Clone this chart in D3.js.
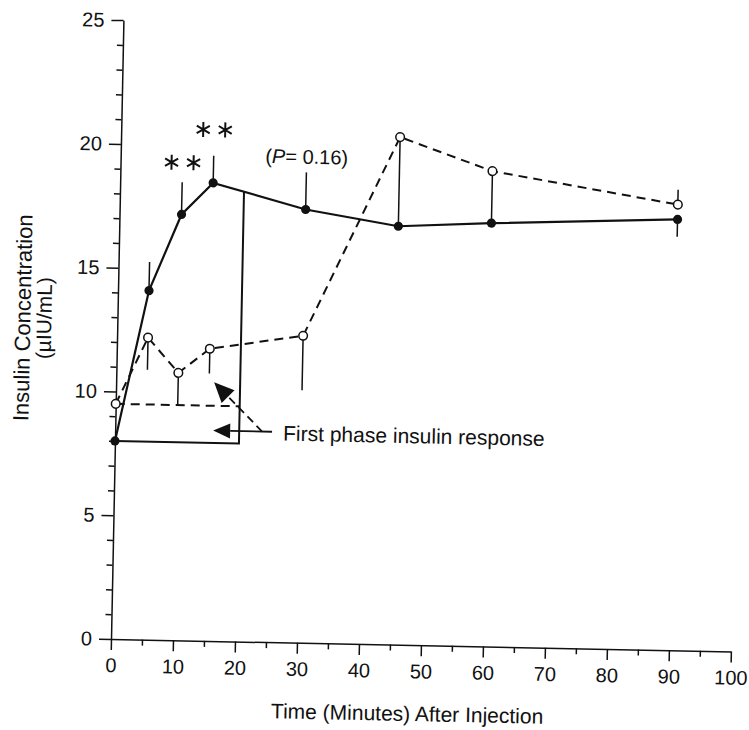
<!DOCTYPE html>
<html>
<head>
<meta charset="utf-8">
<script src="https://cdn.jsdelivr.net/npm/d3@7"></script>
<style>
  body { margin: 0; background: #fff; }
  text { font-family: "Liberation Sans", Arial, Helvetica, sans-serif; fill: #111; }
</style>
</head>
<body>
<svg id="chart" width="749" height="730"></svg>
<script>
// sampling times (minutes after injection)
const times = [0, 5, 10, 15, 30, 45, 60, 90];

// filled circles / solid line
const solidMean    = [8.0, 14.1, 17.2, 18.5, 17.5, 16.9, 17.1, 17.4];
const solidErrUp   = [0, 1.15, 1.3, 1.1, 1.5, 0, 0, 0];
const solidErrDown = [0, 0, 0, 0, 0, 0, 0, 0.7];

// open circles / dashed line
const openMean    = [9.5, 12.2, 10.8, 11.8, 12.4, 20.5, 19.2, 18.0];
const openErrUp   = [0, 0, 0, 0, 0, 0, 0, 0.6];
const openErrDown = [0, 1.3, 1.3, 1.0, 2.2, 3.6, 2.1, 0];

const xTicks = [0, 10, 20, 30, 40, 50, 60, 70, 80, 90, 100];
const yTicks = [0, 5, 10, 15, 20, 25];

const firstPhaseEnd = 20;          // end of first phase window (min)
const starTimes  = [10, 15];       // points marked **
const starLevels = [19.3, 20.65];  // height of the ** marks
const pTime = 30, pLevel = 19.35;  // "(P= 0.16)" label

const W = 620, H = 619;
const tilt = 1.15; // the scanned figure is slightly rotated

const svg = d3.select("#chart");
svg.append("rect").attr("width", 749).attr("height", 730).attr("fill", "#fff");

const g = svg.append("g")
  .attr("transform", `rotate(${tilt},111,639) translate(111,20)`);

const x = d3.scaleLinear().domain([0, 100]).range([0, W]);
const y = d3.scaleLinear().domain([0, 25]).range([H, 0]);

// axes
const styleAxis = sel => {
  sel.attr("font-size", null).attr("font-family", null);
  sel.selectAll("path, line").attr("stroke", "#111").attr("stroke-width", 1.5);
  sel.selectAll("text").attr("font-size", 20);
};

g.append("g").attr("transform", `translate(0,${H})`)
  .call(d3.axisBottom(x).tickValues(d3.range(5, 100, 10)).tickSize(6).tickFormat("").tickSizeOuter(0))
  .call(styleAxis).select(".domain").remove();
g.append("g").attr("transform", `translate(0,${H})`)
  .call(d3.axisBottom(x).tickValues(xTicks).tickSize(11).tickPadding(8).tickSizeOuter(0))
  .call(styleAxis);

g.append("g")
  .call(d3.axisLeft(y).tickValues(d3.range(0, 25).filter(v => v % 5)).tickSize(6).tickFormat("").tickSizeOuter(0))
  .call(styleAxis).select(".domain").remove();
g.append("g")
  .call(d3.axisLeft(y).tickValues(yTicks).tickSize(12).tickPadding(7).tickSizeOuter(0))
  .call(styleAxis);

// axis titles
g.append("text")
  .attr("x", x(48)).attr("y", H + 76)
  .attr("text-anchor", "middle").attr("font-size", 21)
  .text("Time (Minutes) After Injection");

const yTitle = g.append("g").attr("transform", `translate(-87,${y(12.9)}) rotate(-90)`);
yTitle.append("text").attr("text-anchor", "middle").attr("font-size", 22).text("Insulin Concentration");
yTitle.append("text").attr("y", 21).attr("text-anchor", "middle").attr("font-size", 21).text("(\u00b5IU/mL)");

const solid = times.map((t, i) => ({t, v: solidMean[i], up: solidErrUp[i], down: solidErrDown[i]}));
const open  = times.map((t, i) => ({t, v: openMean[i],  up: openErrUp[i],  down: openErrDown[i]}));

// first phase window
const solidAt = d3.scaleLinear().domain(times).range(solidMean);
g.append("path")
  .attr("d", d3.line()([
    [x(0), y(solidMean[0])],
    [x(firstPhaseEnd), y(solidMean[0])],
    [x(firstPhaseEnd), y(solidAt(firstPhaseEnd))]
  ]))
  .attr("fill", "none").attr("stroke", "#111").attr("stroke-width", 2);
g.append("line")
  .attr("x1", x(0)).attr("x2", x(firstPhaseEnd))
  .attr("y1", y(openMean[0])).attr("y2", y(openMean[0]))
  .attr("stroke", "#111").attr("stroke-width", 2).attr("stroke-dasharray", "9,6");

// error bars
const bars = [...solid, ...open].filter(d => d.up || d.down);
g.selectAll("line.err")
  .data(bars)
  .join("line")
  .attr("class", "err")
  .attr("x1", d => x(d.t)).attr("x2", d => x(d.t))
  .attr("y1", d => y(d.v - d.down)).attr("y2", d => y(d.v + d.up))
  .attr("stroke", "#111").attr("stroke-width", 1.5);

// lines
const line = d3.line().x(d => x(d.t)).y(d => y(d.v));
g.append("path").datum(open).attr("d", line)
  .attr("fill", "none").attr("stroke", "#111").attr("stroke-width", 2).attr("stroke-dasharray", "9,6");
g.append("path").datum(solid).attr("d", line)
  .attr("fill", "none").attr("stroke", "#111").attr("stroke-width", 2.2);

// points
g.selectAll("circle.open")
  .data(open)
  .join("circle")
  .attr("class", "open")
  .attr("cx", d => x(d.t)).attr("cy", d => y(d.v)).attr("r", 4.3)
  .attr("fill", "#fff").attr("stroke", "#111").attr("stroke-width", 1.5);
g.selectAll("circle.solid")
  .data(solid)
  .join("circle")
  .attr("class", "solid")
  .attr("cx", d => x(d.t)).attr("cy", d => y(d.v)).attr("r", 4.6)
  .attr("fill", "#111");

// ** marks
const star = d3.symbol(d3.symbolAsterisk, 160)();
starTimes.forEach((t, i) => {
  [-11, 11].forEach(dx => {
    g.append("path")
      .attr("d", star)
      .attr("transform", `translate(${x(t) + dx},${y(starLevels[i])})`)
      .attr("fill", "none").attr("stroke", "#111").attr("stroke-width", 2);
  });
});

// P value
const pText = g.append("text")
  .attr("x", x(pTime)).attr("y", y(pLevel))
  .attr("text-anchor", "middle").attr("font-size", 20);
pText.append("tspan").text("(");
pText.append("tspan").attr("font-style", "italic").text("P");
pText.append("tspan").text("= 0.16)");

// first phase annotation
const arrow = (from, to, dashed, len, half) => {
  const [x0, y0] = [x(from[0]), y(from[1])];
  const [x1, y1] = [x(to[0]), y(to[1])];
  const a = Math.atan2(y1 - y0, x1 - x0);
  const bx = x1 - len * Math.cos(a), by = y1 - len * Math.sin(a);
  g.append("line")
    .attr("x1", x0).attr("y1", y0).attr("x2", bx).attr("y2", by)
    .attr("stroke", "#111").attr("stroke-width", 1.8)
    .attr("stroke-dasharray", dashed ? "8,5" : null);
  g.append("path")
    .attr("d", d3.line()([
      [x1, y1],
      [bx + half * Math.sin(a), by - half * Math.cos(a)],
      [bx - half * Math.sin(a), by + half * Math.cos(a)]
    ]) + "Z")
    .attr("fill", "#111");
};
arrow([25.3, 8.5], [15.8, 8.5], false, 17, 7.5);
arrow([23.7, 8.5], [15.8, 10.45], true, 20, 9);

g.append("text")
  .attr("x", x(27.1)).attr("y", y(8.15))
  .attr("font-size", 21)
  .text("First phase insulin response");
</script>
</body>
</html>
